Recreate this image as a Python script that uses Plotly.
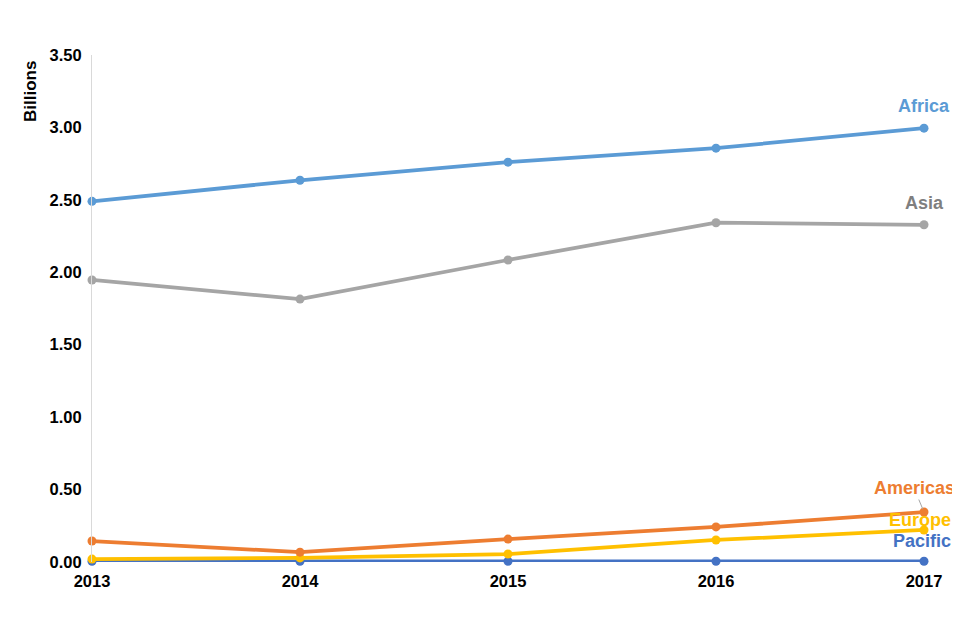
import plotly.graph_objects as go

years = [2013, 2014, 2015, 2016, 2017]
africa = [2.49, 2.635, 2.76, 2.857, 2.995]
asia = [1.947, 1.815, 2.085, 2.342, 2.328]
americas = [0.145, 0.068, 0.158, 0.242, 0.345]
europe = [0.02, 0.028, 0.055, 0.152, 0.221]
pacific = [0.005, 0.005, 0.005, 0.005, 0.005]

series = [
    ("Pacific", pacific, "#4472C4"),
    ("Europe", europe, "#FFC000"),
    ("Americas", americas, "#ED7D31"),
    ("Asia", asia, "#A5A5A5"),
    ("Africa", africa, "#5B9BD5"),
]

fig = go.Figure()
for name, vals, col in series:
    fig.add_trace(go.Scatter(
        x=years, y=vals, name=name, mode="lines+markers",
        line=dict(color=col, width=3.75),
        marker=dict(color=col, size=9),
        cliponaxis=False,
    ))

FF = "Liberation Sans, Arial, sans-serif"


def lf(c):
    return dict(color=c, size=18, family=FF, weight="bold")


ann = [
    dict(x=2017, y=africa[-1], text="Africa", showarrow=False, font=lf("#5B9BD5"),
         xanchor="center", yanchor="middle", yshift=22),
    dict(x=2017, y=asia[-1], text="Asia", showarrow=False, font=lf("#7F7F7F"),
         xanchor="center", yanchor="middle", yshift=22),
    dict(x=2017, y=americas[-1], text="Americas", showarrow=True,
         arrowhead=0, arrowcolor="#A5A5A5", arrowwidth=1,
         ax=-10, ay=-24, font=lf("#ED7D31"), standoff=3),
    dict(x=2017, y=europe[-1], text="Europe", showarrow=False, font=lf("#FFC000"),
         xanchor="right", yanchor="middle", xshift=28, yshift=9.5, borderpad=0),
    dict(x=2017, y=pacific[-1], text="Pacific", showarrow=False, font=lf("#4472C4"),
         xanchor="right", yanchor="middle", xshift=28, yshift=20.5, borderpad=0),
    dict(xref="paper", yref="paper", x=-0.0745, y=0.927, text="Billions", showarrow=False,
         textangle=-90, xanchor="center", yanchor="middle",
         font=dict(size=17, color="#000000", family=FF, weight="bold")),
]

fig.update_layout(
    width=960, height=640,
    margin=dict(l=84, r=44, t=47, b=86),
    paper_bgcolor="white", plot_bgcolor="white",
    showlegend=False,
    font=dict(family=FF, color="#000000"),
    annotations=ann,
    xaxis=dict(
        range=[2013, 2017], tickvals=years, ticktext=[str(y) for y in years],
        showgrid=False, zeroline=False, showline=False,
        tickfont=dict(size=16.5, color="#000000", weight="bold", family=FF), ticks="",
        ticklabelstandoff=7,
    ),
    yaxis=dict(
        range=[0, 3.5], dtick=0.5, tickformat=".2f",
        showgrid=False, zeroline=False, showline=True, linecolor="#D9D9D9", linewidth=1,
        tickfont=dict(size=16.5, color="#000000", weight="bold", family=FF), ticks="",
        ticklabelstandoff=6,
    ),
)

fig.write_html("out.html")
